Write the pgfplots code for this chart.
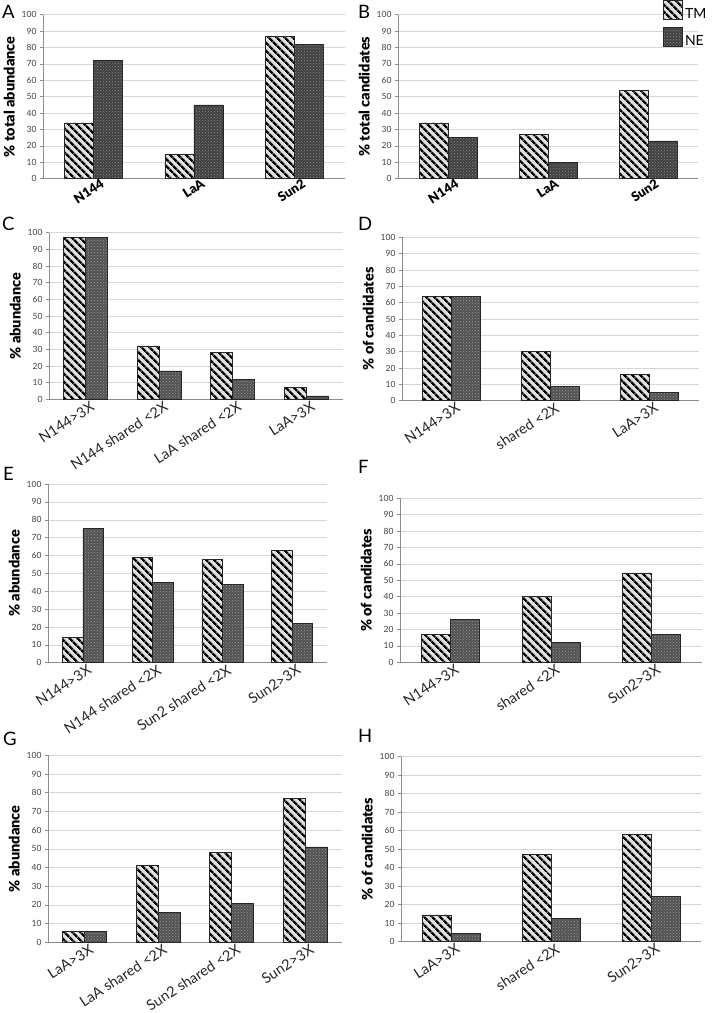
\documentclass[border=0pt]{standalone}
\usepackage{fontspec}
\setmainfont{Lato}
\IfFontExistsTF{Lato Black}{\newfontfamily\heavyfont{Lato Black}}{\newcommand\heavyfont{\bfseries}}
\usepackage{pgfplots}
\pgfplotsset{compat=1.18}
\usepackage{pgfplotstable}
\usetikzlibrary{patterns,patterns.meta}

\pgfplotsset{
  panel/.style={
    scale only axis, anchor=south west,
    ybar=0pt,
    ymin=0, ymax=100, ytick={0,10,...,100},
    axis x line*=bottom, axis y line*=left,
    axis line style={draw=black!45, line width=0.6pt, -},
    ymajorgrids, major grid style={draw=black!16, line width=0.5pt},
    tick align=outside, major tick length=3pt,
    ytick style={draw=black!45, line width=0.5pt},
    xtick style={draw=none},
    xtick=data,
    /pgf/number format/assume math mode=true,
    yticklabel style={font=\fontsize{8.5}{9}\selectfont, text=black!75},
    xticklabel style={font=\fontsize{14.5}{17}\selectfont, text=black!85, rotate=33, anchor=north east, inner sep=0.5pt, xshift=5pt},
    ylabel style={font=\heavyfont\fontsize{14.5}{16}\selectfont},
    clip=false,
  },
  boldx/.style={xticklabel style={font=\heavyfont\fontsize{13}{15}\selectfont, text=black, xshift=3pt}},
  tm/.style={draw=black!85, line width=0.6pt, fill=black!12,
    postaction={pattern={Lines[angle=-45,distance=5.4pt,line width=2.4pt]}, pattern color=black}},
  ne/.style={draw=black!85, line width=0.6pt, fill=black!68,
    postaction={pattern=crosshatch dots, pattern color=black!40}},
  nedark/.style={draw=black!85, line width=0.6pt, fill=black!75,
    postaction={pattern=crosshatch dots, pattern color=black!45}},
  boxlegend/.style={legend image code/.code={\draw[##1] (0pt,-5pt) rectangle (19pt,14pt);}},
}

\pgfplotstableread{
x TM NE
0 34 72
1 15 45
2 87 82
}\dataA
\pgfplotstableread{
x TM NE
0 34 25
1 27 10
2 54 23
}\dataB
\pgfplotstableread{
x TM NE
0 97 97
1 32 17
2 28 12
3 7 2
}\dataC
\pgfplotstableread{
x TM NE
0 64 64
1 30 9
2 16 5
}\dataD
\pgfplotstableread{
x TM NE
0 14 75
1 59 45
2 58 44
3 63 22
}\dataE
\pgfplotstableread{
x TM NE
0 17 26
1 40 12
2 54.5 17
}\dataF
\pgfplotstableread{
x TM NE
0 6 6
1 41 16
2 48 21
3 77 51
}\dataG
\pgfplotstableread{
x TM NE
0 14.5 4.5
1 47 12.5
2 58 24.5
}\dataH

\begin{document}
\begin{tikzpicture}
\path[use as bounding box] (0pt,0pt) rectangle (712pt,-1013pt);

% A
\begin{axis}[panel, boldx, at={(43pt,-178.7pt)}, width=302pt, height=164pt,
  bar width=29pt, xmin=-0.5, xmax=2.5,
  xticklabels={N144,LaA,Sun2}, ylabel={\% total abundance}]
\addplot[tm] table[x=x,y=TM]{\dataA};
\addplot[nedark] table[x=x,y=NE]{\dataA};
\end{axis}

% B
\begin{axis}[panel, boldx, at={(398pt,-178.7pt)}, width=300pt, height=164pt,
  bar width=29pt, xmin=-0.5, xmax=2.5,
  xticklabels={N144,LaA,Sun2}, ylabel={\% total candidates},
  legend style={at={(1.035,1.09)}, anchor=north east, draw=none, fill=none,
    font=\fontsize{14}{16}\selectfont, row sep=5pt, inner sep=0pt,
    cells={anchor=west}}]
\addplot[tm, boxlegend] table[x=x,y=TM]{\dataB};
\addplot[nedark, boxlegend] table[x=x,y=NE]{\dataB};
\legend{TM,NE}
\end{axis}

% C
\begin{axis}[panel, at={(49pt,-399.3pt)}, width=294pt, height=166.6pt,
  bar width=22pt, xmin=-0.5, xmax=3.5,
  xticklabels={N144>3X,N144 shared <2X,LaA shared <2X,LaA>3X}, ylabel={\% abundance}]
\addplot[tm] table[x=x,y=TM]{\dataC};
\addplot[ne] table[x=x,y=NE]{\dataC};
\end{axis}

% D
\begin{axis}[panel, at={(402pt,-400.7pt)}, width=297pt, height=163.4pt,
  bar width=29pt, xmin=-0.5, xmax=2.5,
  xticklabels={N144>3X,shared <2X,LaA>3X}, ylabel={\% of candidates}]
\addplot[tm] table[x=x,y=TM]{\dataD};
\addplot[ne] table[x=x,y=NE]{\dataD};
\end{axis}

% E
\begin{axis}[panel, at={(48pt,-662.7pt)}, width=279pt, height=178.7pt,
  bar width=20.5pt, xmin=-0.5, xmax=3.5,
  xticklabels={N144>3X,N144 shared <2X,Sun2 shared <2X,Sun2>3X}, ylabel={\% abundance}]
\addplot[tm] table[x=x,y=TM]{\dataE};
\addplot[ne] table[x=x,y=NE]{\dataE};
\end{axis}

% F
\begin{axis}[panel, at={(400pt,-662.3pt)}, width=302pt, height=164pt,
  bar width=29pt, xmin=-0.5, xmax=2.5,
  xticklabels={N144>3X,shared <2X,Sun2>3X}, ylabel={\% of candidates}]
\addplot[tm] table[x=x,y=TM]{\dataF};
\addplot[ne] table[x=x,y=NE]{\dataF};
\end{axis}

% G
\begin{axis}[panel, at={(48pt,-942.3pt)}, width=294pt, height=187pt,
  bar width=22pt, xmin=-0.5, xmax=3.5,
  xticklabels={LaA>3X,LaA shared <2X,Sun2 shared <2X,Sun2>3X}, ylabel={\% abundance}]
\addplot[tm] table[x=x,y=TM]{\dataG};
\addplot[ne] table[x=x,y=NE]{\dataG};
\end{axis}

% H
\begin{axis}[panel, at={(401pt,-941.7pt)}, width=300pt, height=185pt,
  bar width=29pt, xmin=-0.5, xmax=2.5,
  xticklabels={LaA>3X,shared <2X,Sun2>3X}, ylabel={\% of candidates}]
\addplot[tm] table[x=x,y=TM]{\dataH};
\addplot[ne] table[x=x,y=NE]{\dataH};
\end{axis}

\begin{scope}[every node/.style={anchor=base west, inner sep=0pt, font=\fontsize{18.5}{20}\selectfont}]
\node at (2pt,-18pt) {A};
\node at (358pt,-18pt) {B};
\node at (2pt,-230pt) {C};
\node at (358pt,-230pt) {D};
\node at (3pt,-480pt) {E};
\node at (358pt,-473pt) {F};
\node at (3pt,-745pt) {G};
\node at (358pt,-742pt) {H};
\end{scope}
\end{tikzpicture}
\end{document}
